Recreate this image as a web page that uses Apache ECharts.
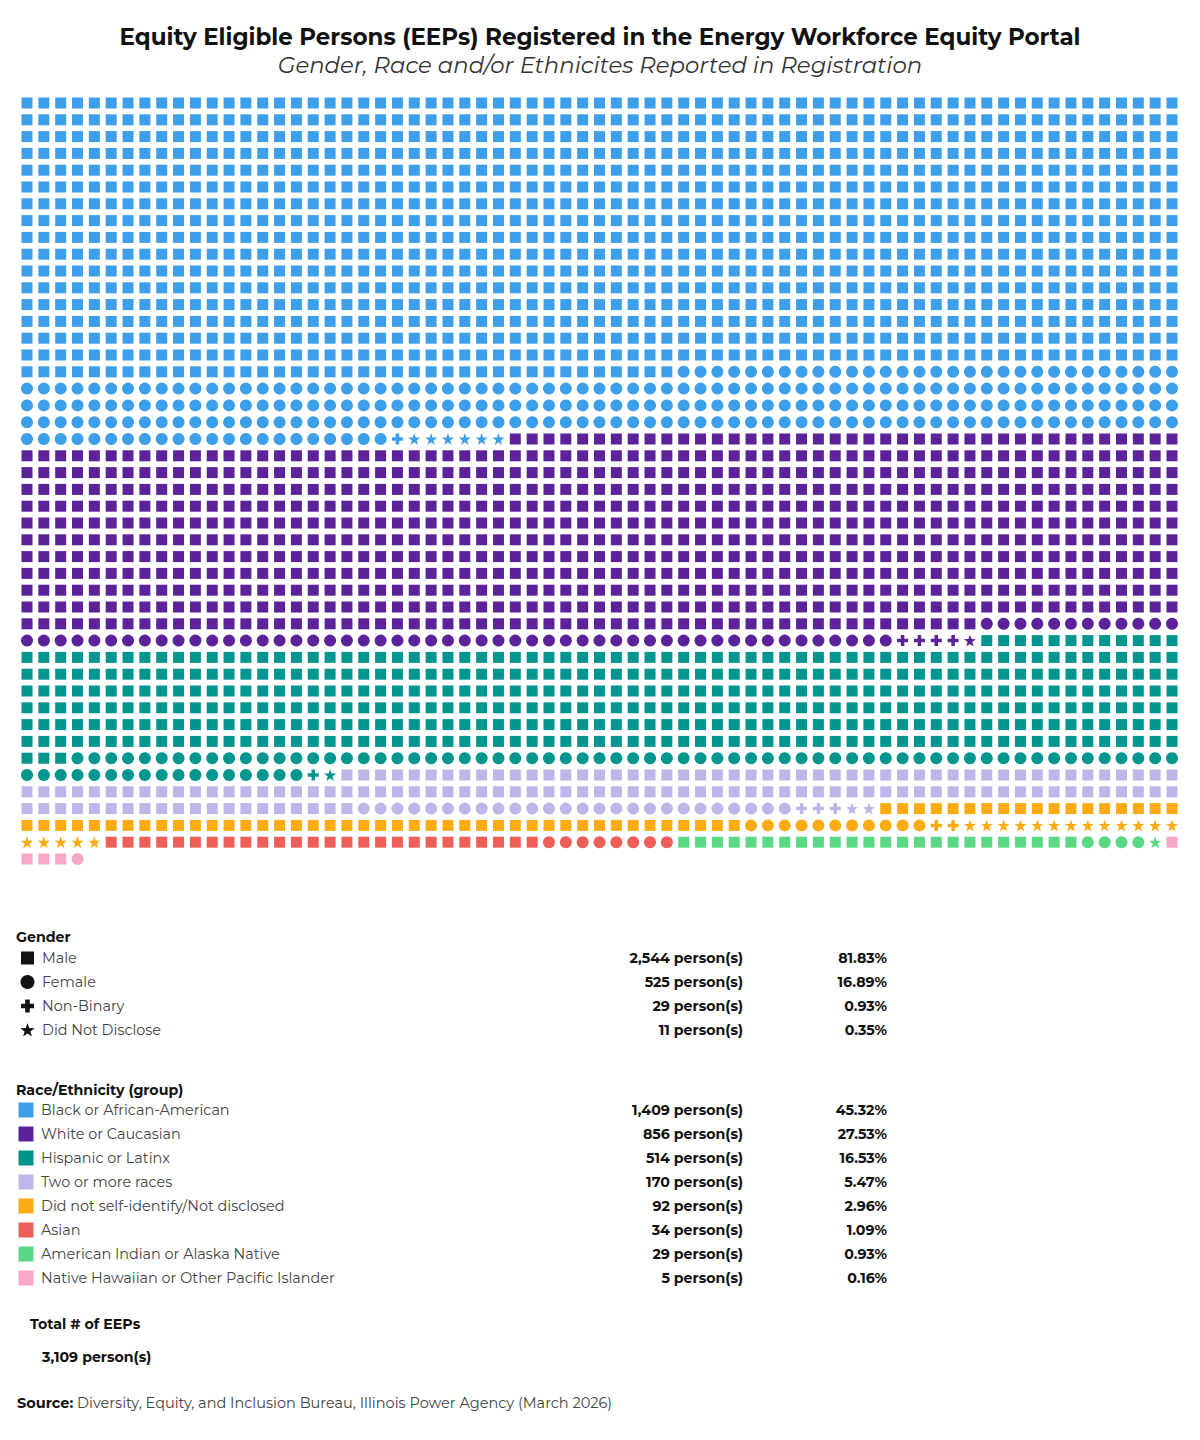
<!DOCTYPE html>
<html>
<head>
<meta charset="utf-8">
<title>EEPs Registered</title>
<script src="https://cdn.jsdelivr.net/npm/echarts@6/dist/echarts.min.js"></script>
<style>
html,body{margin:0;padding:0;background:#fff;}
#chart{width:1200px;height:1440px;}
</style>
</head>
<body>
<div id="chart"></div>
<script>
// ---------- data ----------
const raceNames = ['Black or African-American', 'White or Caucasian', 'Hispanic or Latinx', 'Two or more races',
  'Did not self-identify/Not disclosed', 'Asian', 'American Indian or Alaska Native', 'Native Hawaiian or Other Pacific Islander'];
// symbols counted in the pictogram, per race, in drawing order
const maleCounts = [1143, 787, 429, 139, 61, 26, 24, 4];
const femaleCounts = [259, 64, 83, 26, 11, 8, 4, 1];
const nonBinaryCounts = [1, 4, 1, 3, 2, 0, 0, 0];
const notDisclosedCounts = [6, 1, 1, 2, 18, 0, 1, 0];
const columnsPerRow = 69;

const genderNames = ['Male', 'Female', 'Non-Binary', 'Did Not Disclose'];
const genderCountLabels = ['2,544 person(s)', '525 person(s)', '29 person(s)', '11 person(s)'];
const genderPctLabels = ['81.83%', '16.89%', '0.93%', '0.35%'];
const raceCountLabels = ['1,409 person(s)', '856 person(s)', '514 person(s)', '170 person(s)', '92 person(s)', '34 person(s)', '29 person(s)', '5 person(s)'];
const racePctLabels = ['45.32%', '27.53%', '16.53%', '5.47%', '2.96%', '1.09%', '0.93%', '0.16%'];
const totalLabel = '3,109 person(s)';

const titleText = 'Equity Eligible Persons (EEPs) Registered in the Energy Workforce Equity Portal';
const subtitleText = 'Gender, Race and/or Ethnicites Reported in Registration';
const sourceText = 'Diversity, Equity, and Inclusion Bureau, Illinois Power Agency (March 2026)';

// ---------- styles ----------
const raceColors = ['#3d9fea', '#5c2299', '#00968f', '#bdb6e9', '#fdab12', '#ee5f5a', '#5ad883', '#f9a7c8'];
const FONT = 'Montserrat, Inter, "Open Sans", sans-serif';

function starPath() {
  const pts = [];
  for (let i = 0; i < 10; i++) {
    const r = i % 2 === 0 ? 50 : 20;
    const a = -Math.PI / 2 + i * Math.PI / 5;
    pts.push((50 + r * Math.cos(a)).toFixed(2) + ',' + (50 + r * Math.sin(a)).toFixed(2));
  }
  return 'path://M' + pts.join('L') + 'Z';
}
const STAR = starPath();
const CROSS = 'path://M3.4,0H6.6V3.4H10V6.6H6.6V10H3.4V6.6H0V3.4H3.4Z';
const genderSymbols = ['rect', 'circle', CROSS, STAR];
const genderSizes = [11, 12, 11, 12];

// ---------- build series ----------
const genderCounts = [maleCounts, femaleCounts, nonBinaryCounts, notDisclosedCounts];
let idx = 0;
const series = raceNames.map((name, r) => {
  const data = [];
  for (let g = 0; g < 4; g++) {
    for (let k = 0; k < genderCounts[g][r]; k++) {
      data.push({
        value: [idx % columnsPerRow, Math.floor(idx / columnsPerRow)],
        symbol: genderSymbols[g],
        symbolSize: genderSizes[g]
      });
      idx++;
    }
  }
  return {
    name: name,
    type: 'scatter',
    data: data,
    clip: false,
    silent: true,
    itemStyle: { color: raceColors[r], opacity: 1 },
    emphasis: { disabled: true }
  };
});
const rowsUsed = Math.ceil(idx / columnsPerRow);

// ---------- graphic (title, legend tables) ----------
const g = [];
function txt(x, y, text, opts) {
  opts = opts || {};
  g.push({
    type: 'text', x: x, y: y, silent: true,
    style: Object.assign({
      text: text,
      fill: opts.fill || '#111',
      fontFamily: FONT,
      fontSize: opts.size || 14,
      fontWeight: opts.weight || 'normal',
      fontStyle: opts.style || 'normal',
      align: opts.align || 'left',
      textAlign: opts.align || 'left',
      verticalAlign: 'middle',
      textVerticalAlign: 'middle'
    }, opts.extra || {})
  });
}
txt(600, 37, titleText, { size: 23, weight: 'bold', align: 'center' });
txt(600, 65, subtitleText, { size: 22.8, style: 'italic', align: 'center', fill: '#333' });

const NS = 14.4, BS = 14.2;
// Gender table
txt(16, 937, 'Gender', { size: BS, weight: 'bold' });
const gY0 = 958, gStep = 24;
genderNames.forEach((n, i) => {
  const y = gY0 + i * gStep;
  txt(42, y, n, { size: NS, fill: '#444' });
  txt(743, y, genderCountLabels[i], { size: BS, weight: 'bold', align: 'right' });
  txt(887, y, genderPctLabels[i], { size: BS, weight: 'bold', align: 'right' });
});
// gender legend symbols
g.push({ type: 'rect', silent: true, shape: { x: 21, y: gY0 - 6.5, width: 13, height: 13 }, style: { fill: '#111' } });
g.push({ type: 'circle', silent: true, shape: { cx: 27.5, cy: gY0 + gStep, r: 7 }, style: { fill: '#111' } });
(function () {
  const cx = 27.5, cy = gY0 + 2 * gStep, a = 6.5, w = 2.3;
  g.push({ type: 'polygon', silent: true, shape: { points: [
    [cx - w, cy - a], [cx + w, cy - a], [cx + w, cy - w], [cx + a, cy - w], [cx + a, cy + w], [cx + w, cy + w],
    [cx + w, cy + a], [cx - w, cy + a], [cx - w, cy + w], [cx - a, cy + w], [cx - a, cy - w], [cx - w, cy - w]] }, style: { fill: '#111' } });
  const sy = gY0 + 3 * gStep + 0.5, pts = [];
  for (let i = 0; i < 10; i++) {
    const r = i % 2 === 0 ? 7.5 : 3;
    const ang = -Math.PI / 2 + i * Math.PI / 5;
    pts.push([cx + r * Math.cos(ang), sy + r * Math.sin(ang)]);
  }
  g.push({ type: 'polygon', silent: true, shape: { points: pts }, style: { fill: '#111' } });
})();

// Race table
txt(16, 1090, 'Race/Ethnicity (group)', { size: BS, weight: 'bold' });
const rY0 = 1110, rStep = 24;
raceNames.forEach((n, i) => {
  const y = rY0 + i * rStep;
  g.push({ type: 'rect', silent: true, shape: { x: 18.5, y: y - 7.5, width: 15, height: 15 }, style: { fill: raceColors[i] } });
  txt(41, y, n, { size: NS, fill: '#444' });
  txt(743, y, raceCountLabels[i], { size: BS, weight: 'bold', align: 'right' });
  txt(887, y, racePctLabels[i], { size: BS, weight: 'bold', align: 'right' });
});

txt(30, 1324, 'Total # of EEPs', { size: BS, weight: 'bold' });
txt(42, 1357, totalLabel, { size: BS, weight: 'bold' });
txt(17, 1403, '{b|Source:} ' + sourceText, { size: 14.5, fill: '#444', extra: { rich: { b: { fontWeight: 'bold', fill: '#111', fontFamily: FONT, fontSize: 14.5 } } } });

// ---------- chart ----------
const chart = echarts.init(document.getElementById('chart'), null, { renderer: 'svg' });
chart.setOption({
  animation: false,
  backgroundColor: '#ffffff',
  grid: { left: 27, right: 28, top: 103, bottom: 581, containLabel: false },
  xAxis: { type: 'value', min: 0, max: columnsPerRow - 1, show: false },
  yAxis: { type: 'value', min: 0, max: rowsUsed - 1, inverse: true, show: false },
  tooltip: { show: false },
  series: series,
  graphic: g
});
</script>
</body>
</html>
